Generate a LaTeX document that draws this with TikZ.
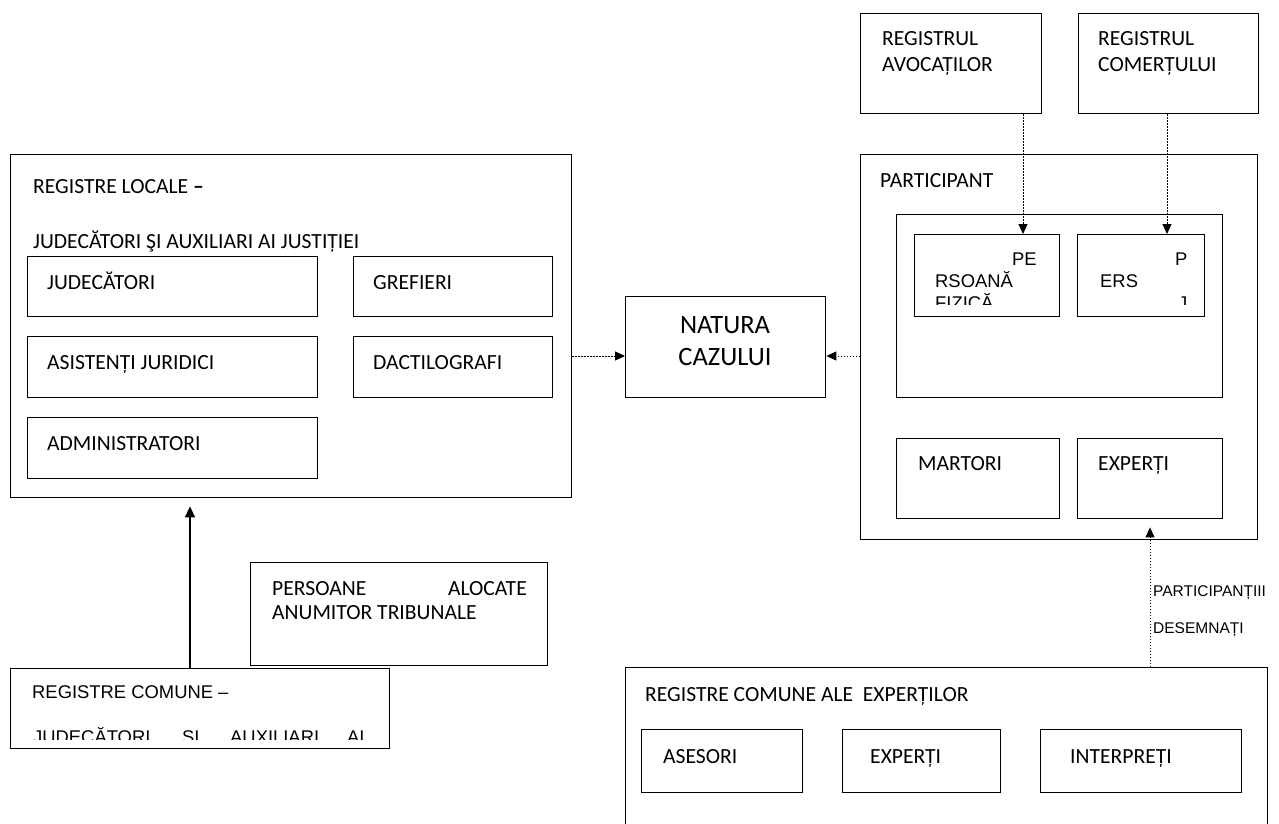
\documentclass[tikz,border=0pt]{standalone}
\usepackage{fontspec}
\setmainfont{Carlito}
\newfontfamily\arialfont{Liberation Sans}
\usetikzlibrary{arrows.meta}

\tikzset{
  box/.style={draw, line width=1.4pt, inner sep=0pt, anchor=north west},
  lbl/.style={anchor=base west, inner sep=0pt, font=\fontsize{21.6}{26}\selectfont},
  albl/.style={anchor=base west, inner sep=0pt, font=\arialfont\fontsize{18.4}{22}\selectfont},
  slbl/.style={anchor=base west, inner sep=0pt, font=\arialfont\fontsize{15.5}{18}\selectfont},
  dotarrow/.style={line width=1pt, dash pattern=on 1.2pt off 1.8pt, -{Triangle[length=10pt,width=9pt]}},
  solidarrow/.style={line width=1.6pt, -{Triangle[length=11pt,width=10pt]}},
}

\begin{document}
\begin{tikzpicture}[x=1pt,y=-1pt]
  \useasboundingbox (0,0) rectangle (1279,823);
  \clip (0,0) rectangle (1279,823);
  % local registers
  \node[box, minimum width=561, minimum height=343] (locale) at (10,154) {};
  \node[lbl] (tLocale) at (33,193) {REGISTRE LOCALE \textbf{–}};
  \node[lbl] (tLocaleSub) at (33,248) {JUDECĂTORI ŞI AUXILIARI AI JUSTIȚIEI};
  \node[box, minimum width=290, minimum height=60] (jud) at (27,256) {};
  \node[box, minimum width=199, minimum height=60] (gref) at (353,256) {};
  \node[box, minimum width=290, minimum height=61] (asist) at (27,336) {};
  \node[box, minimum width=199, minimum height=61] (dact) at (353,336) {};
  \node[box, minimum width=290, minimum height=61] (admin) at (27,417) {};
  \node[lbl] (tJud) at (47,289) {JUDECĂTORI};
  \node[lbl] (tGref) at (373,289) {GREFIERI};
  \node[lbl] (tAsist) at (47,369) {ASISTENȚI JURIDICI};
  \node[lbl] (tDact) at (373,369) {DACTILOGRAFI};
  \node[lbl] (tAdmin) at (47,450) {ADMINISTRATORI};
  % nature of the case
  \node[box, minimum width=200, minimum height=101] (natura) at (625,296) {};
  \node[align=center, inner sep=0pt, font=\fontsize{26.5}{32}\selectfont] (tNatura) at (725,341) {NATURA\\CAZULUI};
  % external registers
  \node[box, minimum width=181, minimum height=100] (avocati) at (860,13) {};
  \node[box, minimum width=180, minimum height=100] (comert) at (1078,13) {};
  \node[lbl] (tAvocati) at (882,45) {REGISTRUL};
  \node[lbl] (tAvocati2) at (882,71) {AVOCAȚILOR};
  \node[lbl] (tComert) at (1098,45) {REGISTRUL};
  \node[lbl] (tComert2) at (1098,71) {COMERȚULUI};
  % participant
  \node[box, minimum width=397, minimum height=385] (participant) at (860,154) {};
  \node[lbl] (tPart) at (880,187) {PARTICIPANT};
  \node[box, minimum width=326, minimum height=183] (pgroup) at (896,214) {};
  \node[box, minimum width=145, minimum height=82] (pf) at (914,234) {};
  \node[box, minimum width=127, minimum height=82] (pj) at (1077,234) {};
  \begin{scope}
    \clip (900,236) rectangle (1220,304);
    \node[albl] (tPf1) at (1012,265) {PE};
    \node[albl] (tPf2) at (935,287) {RSOANĂ};
    \node[albl] (tPf3) at (935,309) {FIZICĂ};
    \node[albl] (tPj1) at (1175,265) {P};
    \node[albl] (tPj2) at (1100,287) {ERS};
    \node[albl] (tPj3) at (1178,309) {J};
  \end{scope}
  \node[box, minimum width=163, minimum height=80] (martori) at (896,438) {};
  \node[box, minimum width=145, minimum height=80] (expp) at (1077,438) {};
  \node[lbl] (tMartori) at (918,470) {MARTORI};
  \node[lbl] (tExpp) at (1098,470) {EXPERȚI};
  % common registers of experts
  \node[box, minimum width=642, minimum height=220] (regexp) at (625,667) {};
  \node[lbl] (tRegexp) at (645,701) {REGISTRE COMUNE ALE~ EXPERȚILOR};
  \node[box, minimum width=161, minimum height=63] (asesori) at (641,729) {};
  \node[box, minimum width=158, minimum height=63] (expc) at (842,729) {};
  \node[box, minimum width=201, minimum height=63] (interp) at (1040,729) {};
  \node[lbl] (tAsesori) at (663,763) {ASESORI};
  \node[lbl] (tExpc) at (870,763) {EXPERȚI};
  \node[lbl] (tInterp) at (1070,763) {INTERPREȚI};
  % persons assigned to some courts
  \node[box, minimum width=297, minimum height=103] (persoane) at (250,562) {};
  \node[lbl] (tPers1) at (272,595) {PERSOANE};
  \node[lbl, anchor=base east] (tPers2) at (527,595) {ALOCATE};
  \node[lbl] (tPers3) at (272,619) {ANUMITOR TRIBUNALE};
  % common registers
  \node[box, minimum width=379, minimum height=80] (regcom) at (10,668) {};
  \node[albl] (tRegcom) at (32,698) {REGISTRE COMUNE –};
  \begin{scope}
    \clip (12,700) rectangle (387,739);
    \foreach \x/\w [count=\i] in {33/JUDECĂTORI, 182/ŞI, 230/AUXILIARI, 347/AI}
      \node[albl] (tRc\i) at (\x,743) {\w};
  \end{scope}
  % connectors
  \draw[dotarrow] (locale.east |- 0,356) -- (natura.west |- 0,356);
  \draw[dotarrow] (participant.west |- 0,356) -- (natura.east |- 0,356);
  \draw[dotarrow] (avocati.south -| 1023,0) -- (pf.north -| 1023,0);
  \draw[dotarrow] (comert.south -| 1167,0) -- (pj.north -| 1167,0);
  \draw[dotarrow, shorten >=-13pt] (regexp.north -| 1150,0) -- (participant.south -| 1150,0);
  \draw[solidarrow, shorten >=8pt] (regcom.north -| 190,0) -- (locale.south -| 190,0);
  \node[slbl] (tDes1) at (1153,596) {PARTICIPANȚIII};
  \node[slbl] (tDes2) at (1153,633) {DESEMNAȚI};
\end{tikzpicture}
\end{document}
